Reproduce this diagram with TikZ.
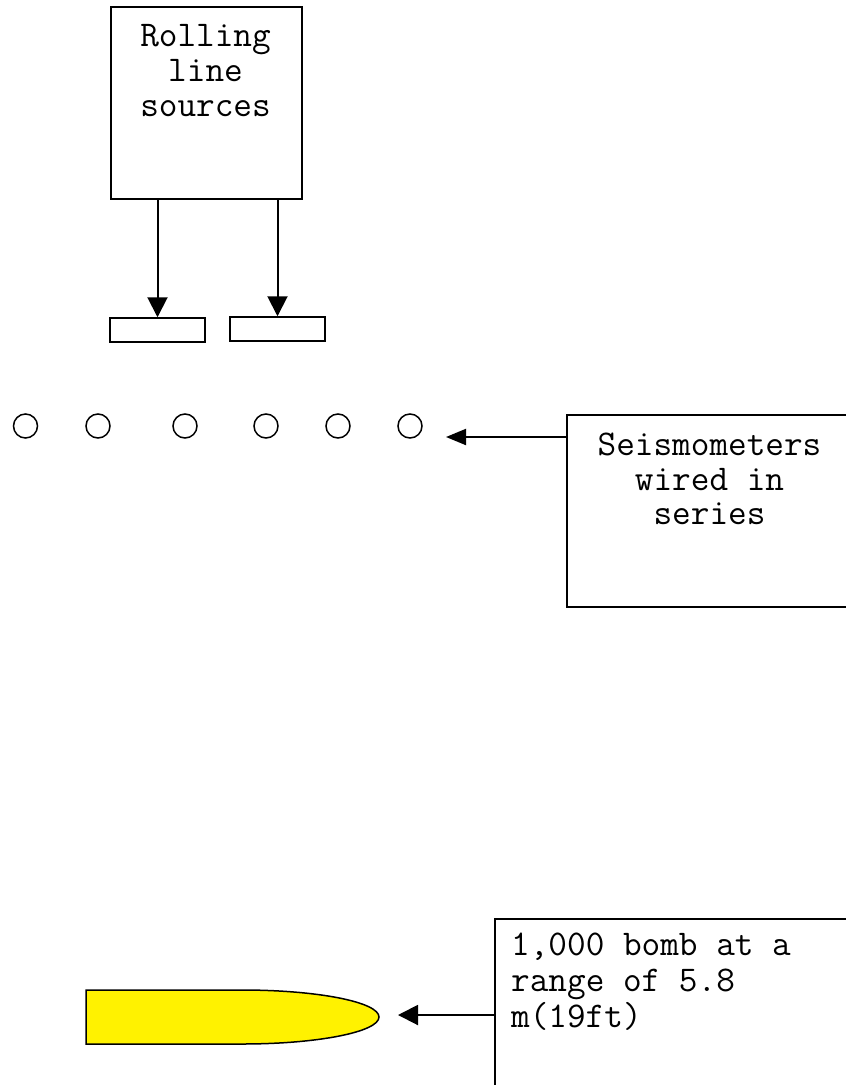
\documentclass[tikz,border=0pt]{standalone}
\usepackage{fontspec}
\usetikzlibrary{arrows.meta}
\begin{document}
\begin{tikzpicture}[x=1pt,y=-1pt,
  box/.style={draw, line width=1.5pt, inner sep=0pt, fill=white},
  pad/.style={draw, line width=1.5pt, inner sep=0pt, minimum width=95pt, minimum height=24pt},
  seis/.style={draw, circle, line width=1.5pt, inner sep=0pt, minimum size=24pt},
  txt/.style={inner sep=0pt, font=\ttfamily\fontsize{36.2}{35}\selectfont},
  arr/.style={line width=2pt, -{Triangle[length=20pt,width=20pt]}}]
\useasboundingbox (0,0) rectangle (846,1085);
\clip (0,0) rectangle (846,1085);
% Rolling line sources
\node[box, minimum width=191pt, minimum height=192pt, anchor=north west] (src) at (110,6) {};
\node[txt, anchor=base] (srcA) at (205.5,46) {Rolling};
\node[txt, anchor=base] (srcB) at (205.5,81) {line};
\node[txt, anchor=base] (srcC) at (205.5,116) {sources};
\node[pad] (p1) at (157.5,330) {};
\node[pad] (p2) at (277.5,329) {};
\draw[arr] (src.south -| p1.north) -- (p1.north);
\draw[arr] (src.south -| p2.north) -- (p2.north);
% seismometers
\node[seis] (s1) at (25.5,426) {};
\node[seis] (s2) at (98,426) {};
\node[seis] (s3) at (185,426) {};
\node[seis] (s4) at (266,426) {};
\node[seis] (s5) at (338,426) {};
\node[seis] (s6) at (410,426) {};
\node[box, minimum width=320pt, minimum height=192pt, anchor=north west] (sb) at (566,414) {};
\node[txt, anchor=base] (sbA) at (709.5,455) {Seismometers};
\node[txt, anchor=base] (sbB) at (709.5,490) {wired in};
\node[txt, anchor=base] (sbC) at (709.5,524) {series};
\coordinate (sArr) at (566,437);
\coordinate (sTip) at (446,437);
\draw[line width=2pt, -{Triangle[length=20pt,width=16pt]}] (sArr) -- (sTip);
% bomb
\draw[line width=1.5pt, fill=yellow] (86,990) -- (242,990)
  arc[start angle=90, end angle=-90, x radius=137pt, y radius=27pt]
  -- (86,1044) -- cycle;
\node[box, minimum width=400pt, minimum height=250pt, anchor=north west] (bb) at (494,918) {};
\node[txt, anchor=base west] (bbA) at (511,955) {1,000 bomb at a};
\node[txt, anchor=base west] (bbB) at (511,991) {range of 5.8};
\node[txt, anchor=base west] (bbC) at (511,1027) {m(19ft)};
\coordinate (bArr) at (494,1015);
\coordinate (bTip) at (398,1015);
\draw[arr] (bArr) -- (bTip);
\end{tikzpicture}
\end{document}
